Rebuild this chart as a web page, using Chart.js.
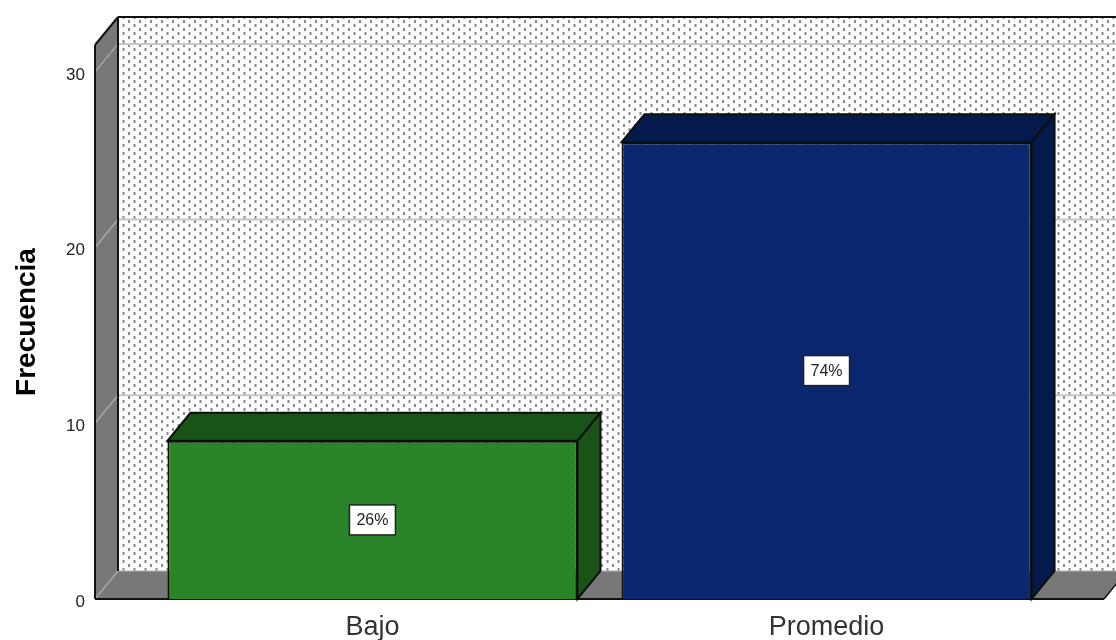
<!DOCTYPE html>
<html>
<head>
<meta charset="utf-8">
<style>
html, body { margin: 0; padding: 0; background: #fff; }
#chart { display: block; }
</style>
<script src="https://cdn.jsdelivr.net/npm/chart.js@4"></script>
</head>
<body>
<canvas id="chart" width="1116" height="640"></canvas>
<script>
var categories = ['Bajo', 'Promedio'];
var frequencies = [9, 26];
var percentLabels = ['26%', '74%'];
var yTicks = [0, 10, 20, 30];

var frontColors = ['#2a8529', '#0a2770'];
var sideColors = ['#1a5318', '#051a4c'];
var depthX = 23, depthY = -28;
var fontName = '"Liberation Sans", Arial, sans-serif';

function dotPattern(ctx) {
  var tile = document.createElement('canvas');
  tile.width = 11;
  tile.height = 8;
  var t = tile.getContext('2d');
  t.fillStyle = '#fff';
  t.fillRect(0, 0, 11, 8);
  t.fillStyle = '#8a8a8a';
  t.fillRect(1.5, 0, 2, 3);
  t.fillRect(7, 4, 2, 3);
  return ctx.createPattern(tile, 'repeat');
}

function poly(ctx, pts, fill, stroke, lw) {
  ctx.beginPath();
  ctx.moveTo(pts[0][0], pts[0][1]);
  for (var i = 1; i < pts.length; i++) ctx.lineTo(pts[i][0], pts[i][1]);
  ctx.closePath();
  if (fill) { ctx.fillStyle = fill; ctx.fill(); }
  if (stroke) { ctx.strokeStyle = stroke; ctx.lineWidth = lw || 1.5; ctx.stroke(); }
}

function line(ctx, x1, y1, x2, y2, color, lw) {
  ctx.beginPath();
  ctx.moveTo(x1, y1);
  ctx.lineTo(x2, y2);
  ctx.strokeStyle = color;
  ctx.lineWidth = lw;
  ctx.stroke();
}

// back wall, left wall, floor and the grid lines that run over them
var roomPlugin = {
  id: 'room',
  beforeDatasetsDraw: function (chart) {
    var ctx = chart.ctx, a = chart.chartArea, y = chart.scales.y;
    var bx = a.left + depthX, by = a.bottom + depthY, ty = a.top + depthY;
    ctx.save();
    ctx.fillStyle = dotPattern(ctx);
    ctx.fillRect(bx, ty, chart.width - bx, by - ty);
    poly(ctx, [[a.left, a.top], [bx, ty], [bx, by], [a.left, a.bottom]], '#787878');
    poly(ctx, [[a.left, a.bottom], [bx, by], [a.right + depthX, by], [a.right, a.bottom]], '#787878');
    yTicks.forEach(function (v) {
      var py = y.getPixelForValue(v);
      line(ctx, a.left, py, bx, py + depthY, '#a8a8a8', 1.5);
      if (v > 0) line(ctx, bx, py + depthY, chart.width, py + depthY, '#c8c8c8', 2);
    });
    line(ctx, bx, by, chart.width, by, '#b0b0b0', 1);
    line(ctx, bx, ty, chart.width, ty, '#111', 2);
    line(ctx, bx, ty, bx, by, '#111', 2);
    line(ctx, a.left, a.top, bx, ty, '#111', 2);
    line(ctx, a.left, a.top, a.left, a.bottom, '#111', 2);
    line(ctx, a.left, a.bottom, a.right, a.bottom, '#111', 2);
    line(ctx, a.right, a.bottom, a.right + depthX, by, '#111', 1.5);
    ctx.restore();
  },
  afterDatasetsDraw: function (chart) {
    var ctx = chart.ctx;
    ctx.save();
    chart.getDatasetMeta(0).data.forEach(function (bar, i) {
      var l = bar.x - bar.width / 2, r = bar.x + bar.width / 2;
      var t = bar.y, b = bar.base;
      poly(ctx, [[l, t], [l + depthX, t + depthY], [r + depthX, t + depthY], [r, t]], sideColors[i], '#0a0f0a', 2);
      poly(ctx, [[r, t], [r + depthX, t + depthY], [r + depthX, b + depthY], [r, b]], sideColors[i], '#0a0f0a', 2);

      var cy = (t + b) / 2;
      ctx.fillStyle = '#fff';
      ctx.fillRect(bar.x - 23, cy - 15, 46, 30);
      ctx.strokeStyle = '#222';
      ctx.lineWidth = 1.5;
      ctx.strokeRect(bar.x - 23, cy - 15, 46, 30);
      ctx.fillStyle = '#222';
      ctx.font = '16px ' + fontName;
      ctx.textAlign = 'center';
      ctx.textBaseline = 'middle';
      ctx.fillText(percentLabels[i], bar.x, cy + 1);
    });
    ctx.restore();
  }
};

new Chart(document.getElementById('chart'), {
  type: 'bar',
  data: {
    datasets: [{
      data: categories.map(function (c, i) { return { x: i, y: frequencies[i] }; }),
      backgroundColor: frontColors,
      borderColor: '#0a0f0a',
      borderWidth: 2,
      barPercentage: 0.903,
      categoryPercentage: 1
    }]
  },
  options: {
    responsive: false,
    animation: false,
    layout: { padding: { top: 45, right: 12, left: 0, bottom: 0 } },
    plugins: { legend: { display: false }, tooltip: { enabled: false } },
    scales: {
      x: {
        type: 'linear',
        offset: false,
        min: -0.611,
        max: 1.611,
        afterFit: function (s) { s.height = 41; },
        afterBuildTicks: function (s) { s.ticks = categories.map(function (c, i) { return { value: i }; }); },
        grid: { display: false },
        border: { display: false },
        ticks: {
          maxRotation: 0,
          autoSkip: false,
          padding: 4,
          color: '#333',
          font: { family: fontName, size: 27 },
          callback: function (v) { return categories[v]; }
        }
      },
      y: {
        min: 0,
        max: 31.53,
        afterFit: function (s) { s.width = 95; },
        afterBuildTicks: function (s) { s.ticks = yTicks.map(function (v) { return { value: v }; }); },
        grid: { display: false },
        border: { display: false },
        ticks: {
          padding: 2,
          labelOffset: 3,
          color: '#222',
          font: { family: fontName, size: 17 }
        },
        title: {
          display: true,
          text: 'Frecuencia',
          color: '#000',
          padding: { top: 10, bottom: 0 },
          font: { family: fontName, size: 28, weight: 'bold' }
        }
      }
    }
  },
  plugins: [roomPlugin]
});
</script>
</body>
</html>
